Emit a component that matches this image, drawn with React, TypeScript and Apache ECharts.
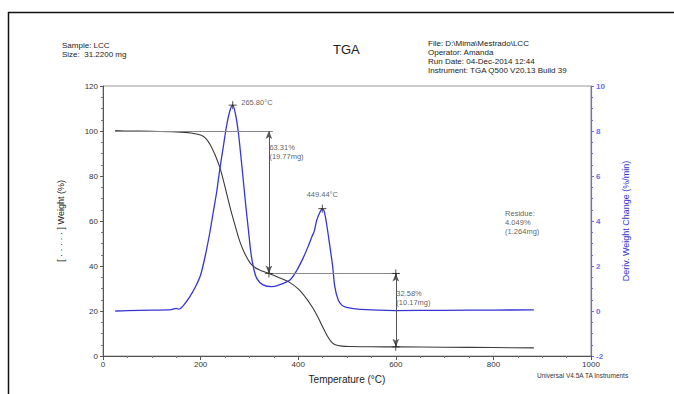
import React, { useEffect, useRef } from "react";
import * as echarts from "echarts";

const tempTicks = [0, 200, 400, 600, 800, 1000];
const weightTicks = [0, 20, 40, 60, 80, 100, 120];
const derivTicks = [-2, 0, 2, 4, 6, 8, 10];

// [Temperature °C, Weight %]
const weightData: [number, number][] = [
  [25, 100.2], [50, 100], [100, 99.9], [150, 99.6], [180, 99.1], [200, 98.2],
  [210, 96.8], [220, 93.8], [230, 89.2], [240, 83.4], [250, 75.2], [260, 66.4],
  [270, 58.5], [281, 50.5], [290, 45.8], [301, 41.5], [310, 39.6], [320, 38.3],
  [330, 37.4], [340, 36.7], [360, 34.9], [383, 32.6], [400, 29.8], [417, 25.5],
  [430, 21.3], [441, 17.0], [451, 12.6], [460, 8.8], [468, 6.3], [476, 5.0],
  [490, 4.4], [506, 4.2], [550, 4.1], [600, 4.05], [700, 3.9], [800, 3.75], [883, 3.6],
];

// [Temperature °C, Deriv. Weight Change %/min]
const derivData: [number, number][] = [
  [25, 0.0], [50, 0.02], [100, 0.04], [140, 0.06], [150, 0.12], [155, 0.08],
  [165, 0.25], [178, 0.64], [190, 1.1], [200, 1.6], [210, 2.5], [219, 3.5],
  [226, 4.4], [233, 5.3], [240, 6.4], [246.5, 7.3], [253, 8.2], [260, 8.9],
  [265.8, 9.15], [271, 8.8], [277, 8.0], [282, 7.0], [287.5, 5.8], [293, 4.6],
  [298, 3.6], [303, 2.6], [308, 1.97], [315, 1.45], [328, 1.16], [345.6, 1.08],
  [360, 1.15], [383, 1.38], [397, 1.8], [410, 2.35], [420, 2.85], [428, 3.3],
  [433, 3.55], [438, 4.04], [445, 4.41], [449.44, 4.55], [453, 4.45], [458, 3.9],
  [465, 2.86], [470.7, 1.97], [475, 1.08], [482, 0.49], [490, 0.25], [499, 0.16],
  [527, 0.07], [600, 0.02], [700, 0.03], [800, 0.04], [883, 0.05],
];

const steps = [
  { temp: 340, from: 100, to: 36.7 },
  { temp: 600, from: 36.7, to: 4.1 },
];
const stepLabels = [
  { temp: 341, weight: 90.7, text: "63.31%\n(19.77mg)" },
  { temp: 601, weight: 25.8, text: "32.58%\n(10.17mg)" },
];
const hLines: [number, number, number][] = [
  // [startTemp, endTemp, weight]
  [25, 348, 100],
  [340, 608, 36.7],
];
const peaks = [
  { temp: 265.8, deriv: 9.15, label: "265.80°C", pos: "right" },
  { temp: 449.44, deriv: 4.55, label: "449.44°C", pos: "top" },
];
const crossPoints: [number, number][] = [
  [340, 36.7], [600, 36.7], [600, 4.1],
];
const startMark: [number, number] = [50, 100];
const residueLabel = "Residue:\n4.049%\n(1.264mg)";
const residuePoint: [number, number] = [824, 59.5];

const headerLeft = ["Sample: LCC", "Size:  31.2200 mg"];
const headerRight = [
  "File: D:\\Mima\\Mestrado\\LCC",
  "Operator: Amanda",
  "Run Date: 04-Dec-2014 12:44",
  "Instrument: TGA Q500 V20.13 Build 39",
];

const FONT = "Liberation Sans, Arial, sans-serif";
const BLUE = "#3535d6";
const AXBLUE = "#6b6bea";
const CROSS = "path://M0,5L10,5M5,0L5,10";
const VBAR = "path://M5,0L5,10";

export default function App() {
  const ref = useRef<HTMLDivElement>(null);
  useEffect(() => {
    if (!ref.current) return;
    const chart = echarts.init(ref.current, undefined, { renderer: "svg" });
    const textStyle = { fontFamily: FONT, fontSize: 8, fill: "#222" };
    const smallLabel = {
      fontFamily: FONT, fontSize: 7.5, color: "#333", lineHeight: 9,
      textBorderWidth: 0, textBorderColor: "transparent",
    };
    const option: any = {
      animation: false,
      backgroundColor: "#fff",
      textStyle: { fontFamily: FONT },
      grid: {
        left: 103, right: 83, top: 86, bottom: 38,
        show: true, borderColor: "#999", borderWidth: 1,
      },
      xAxis: {
        type: "value", min: 0, max: 1000, interval: 200,
        name: "Temperature (°C)", nameLocation: "middle", nameGap: 18,
        nameTextStyle: { fontFamily: FONT, fontSize: 10, color: "#222" },
        axisLine: { lineStyle: { color: "#555" } },
        axisTick: { show: true, length: 4, lineStyle: { color: "#555" } },
        minorTick: { show: true, splitNumber: 4, length: 2, lineStyle: { color: "#777" } },
        splitLine: { show: false },
        axisLabel: {
          fontFamily: FONT, fontSize: 8, color: "#333", margin: 4,
          formatter: (v: number) => (tempTicks.includes(v) ? String(v) : ""),
        },
      },
      yAxis: [
        {
          type: "value", min: 0, max: 120, interval: 20, position: "left",
          name: "[ · · · · · ] Weight (%)", nameLocation: "middle", nameGap: 38, nameRotate: 90,
          nameTextStyle: { fontFamily: FONT, fontSize: 9, color: "#222" },
          axisLine: { show: true, lineStyle: { color: "#555" } },
          axisTick: { show: true, length: 3, lineStyle: { color: "#555" } },
          minorTick: { show: true, splitNumber: 4, length: 2, lineStyle: { color: "#777" } },
          splitLine: { show: false },
          axisLabel: {
            fontFamily: FONT, fontSize: 8, color: "#333", margin: 5,
            formatter: (v: number) => (weightTicks.includes(v) ? String(v) : ""),
          },
        },
        {
          type: "value", min: -2, max: 10, interval: 2, position: "right",
          name: "Deriv. Weight Change (%/min)", nameLocation: "middle", nameGap: 30, nameRotate: 90,
          nameTextStyle: { fontFamily: FONT, fontSize: 9, color: BLUE },
          axisLine: { show: true, lineStyle: { color: AXBLUE, width: 1.2 } },
          axisTick: { show: true, length: 3, lineStyle: { color: AXBLUE } },
          minorTick: { show: true, splitNumber: 4, length: 2, lineStyle: { color: AXBLUE } },
          splitLine: { show: false },
          axisLabel: {
            fontFamily: FONT, fontSize: 8, color: AXBLUE, margin: 5, fontWeight: "bold",
            formatter: (v: number) => (derivTicks.includes(v) ? String(v) : ""),
          },
        },
      ],
      series: [
        {
          type: "line", name: "Weight", data: weightData, yAxisIndex: 0,
          smooth: 0.3, showSymbol: false, symbol: "none",
          lineStyle: { color: "#3a3a3a", width: 1.1 },
          z: 3,
          markLine: {
            silent: true, animation: false,
            symbol: ["none", "none"],
            lineStyle: { color: "#888", width: 1, type: "solid" },
            label: { show: false },
            data: hLines.map(([a, b, w]) => [{ coord: [a, w] }, { coord: [b, w] }]),
          },
        },
        {
          type: "line", name: "Arrows", data: [], yAxisIndex: 0,
          markLine: {
            silent: true, animation: false,
            symbol: ["arrow", "arrow"], symbolSize: [5, 8],
            lineStyle: { color: "#555", width: 1, type: "solid" },
            label: { show: false },
            data: steps.map((s) => [
              { coord: [s.temp, s.from] },
              { coord: [s.temp, s.to] },
            ]),
          },
        },
        {
          type: "line", name: "Deriv", data: derivData, yAxisIndex: 1,
          smooth: 0.3, showSymbol: false, symbol: "none",
          lineStyle: { color: BLUE, width: 1.3 },
          z: 4,
        },
        {
          type: "scatter", name: "Peaks", yAxisIndex: 1,
          data: peaks.map((p) => ({
            value: [p.temp, p.deriv], name: p.label,
            label: p.pos === "right"
              ? { position: "right", distance: 2, offset: [0, -3], ...smallLabel }
              : { position: "top", distance: 3, ...smallLabel },
          })),
          symbol: CROSS, symbolSize: 8,
          itemStyle: { color: "none", borderColor: "#222", borderWidth: 1 },
          label: { show: true, formatter: (p: any) => p.name, ...smallLabel },
          z: 5,
        },
        {
          type: "scatter", name: "Crosses", yAxisIndex: 0,
          data: [
            ...crossPoints.map((c) => ({ value: c, symbol: CROSS })),
            { value: startMark, symbol: VBAR },
          ],
          symbolSize: 8,
          itemStyle: { color: "none", borderColor: "#222", borderWidth: 1 },
          z: 5,
        },
        {
          type: "scatter", name: "Texts", yAxisIndex: 0,
          data: [
            ...stepLabels.map((s) => ({ value: [s.temp, s.weight], name: s.text })),
            { value: residuePoint, name: residueLabel },
          ],
          symbolSize: 0,
          itemStyle: { color: "#333" },
          label: {
            show: true, position: "right", distance: 0, formatter: (p: any) => p.name,
            ...smallLabel, align: "left", verticalAlign: "middle",
          },
        },
      ],
      graphic: [
        { type: "line", shape: { x1: 8, y1: 12.5, x2: 674, y2: 12.5 }, style: { stroke: "#111", lineWidth: 1.5 } },
        { type: "line", shape: { x1: 8.5, y1: 12, x2: 8.5, y2: 394 }, style: { stroke: "#111", lineWidth: 1.5 } },
        ...headerLeft.map((t, i) => ({
          type: "text", left: 62, top: 41 + i * 9, style: { ...textStyle, text: t },
        })),
        ...headerRight.map((t, i) => ({
          type: "text", left: 428, top: 39 + i * 9, style: { ...textStyle, text: t },
        })),
        { type: "text", left: 333, top: 43, style: { ...textStyle, fontSize: 13, text: "TGA" } },
        {
          type: "text", left: 537, top: 372,
          style: { ...textStyle, fontSize: 6.5, fill: "#333", text: "Universal V4.5A TA Instruments" },
        },
      ],
    };
    chart.setOption(option);
    return () => chart.dispose();
  }, []);
  return (
    <div
      ref={ref}
      style={{ position: "fixed", left: 0, top: 0, width: 674, height: 394 }}
    />
  );
}
